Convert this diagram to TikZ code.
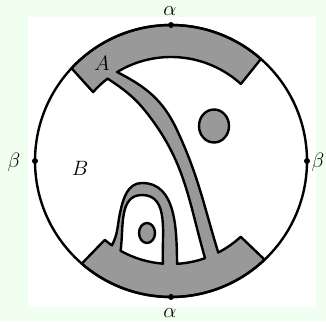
\documentclass[tikz,border=0pt]{standalone}
\definecolor{bggreen}{RGB}{240,255,240}
\definecolor{bandgray}{RGB}{153,153,153}
\tikzset{
  outline/.style={line width=2.4pt},
  band/.style={fill=bandgray,draw=black,line width=2.4pt,line join=round},
  dot/.style={circle,fill=black,inner sep=0pt,minimum size=6pt},
  lab/.style={font=\fontsize{20}{22}\selectfont,inner sep=0pt}
}
\begin{document}
\begin{tikzpicture}[x=1pt,y=1pt]
  \fill[bggreen] (-171,-160) rectangle (155,161);
  \fill[white] (-143,-146) rectangle (145,144);
  % bands, strip and loop
  \filldraw[band,even odd rule] (48.6:136) arc[start angle=48.6,end angle=137,radius=136]
    -- (138.5:104) arc[start angle=138.5,end angle=127.6,radius=104]
    to[out=-33,in=127] (-21,44) to[out=-53,in=106] (-70.7:103)
    arc[start angle=-70.7,end angle=-86.6,radius=103]
    to[out=91,in=0] (-29,-22)
    to[out=180,in=78] (-51,-52)
    to[out=-102,in=62] (-125:103)
    arc[start angle=-125,end angle=-130,radius=103]
    -- (-131:136) arc[start angle=-131,end angle=-46.5,radius=136]
    -- (-47.4:103) arc[start angle=-47.4,end angle=-62.7,radius=103]
    to[out=107,in=-65] (6,31) to[out=115,in=-27] (121.2:104)
    arc[start angle=121.2,end angle=47.8,radius=104] -- cycle
    (-94.5:103) to[out=93,in=0] (-29,-34)
    to[out=180,in=82] (-119.3:103)
    arc[start angle=-119.3,end angle=-94.5,radius=103] -- cycle;
  \filldraw[band] (43,35) ellipse[x radius=15,y radius=16.5];
  \filldraw[band] (-24,-72) ellipse[x radius=8,y radius=10];
  \draw[outline] (0,0) circle[radius=136];
  \node[dot] (top) at (90:136) {};
  \node[dot] (bottom) at (-90:136) {};
  \node[dot] (left) at (180:136) {};
  \node[dot] (right) at (0:136) {};
  \node[lab] (alphatop) at (-1,150) {$\alpha$};
  \node[lab] (alphabot) at (-1,-152) {$\alpha$};
  \node[lab] (betaleft) at (-157,-1) {$\beta$};
  \node[lab] (betaright) at (147,-1) {$\beta$};
  \node[lab] (A) at (-69,98) {$A$};
  \node[lab] (B) at (-91,-7) {$B$};
\end{tikzpicture}
\end{document}
